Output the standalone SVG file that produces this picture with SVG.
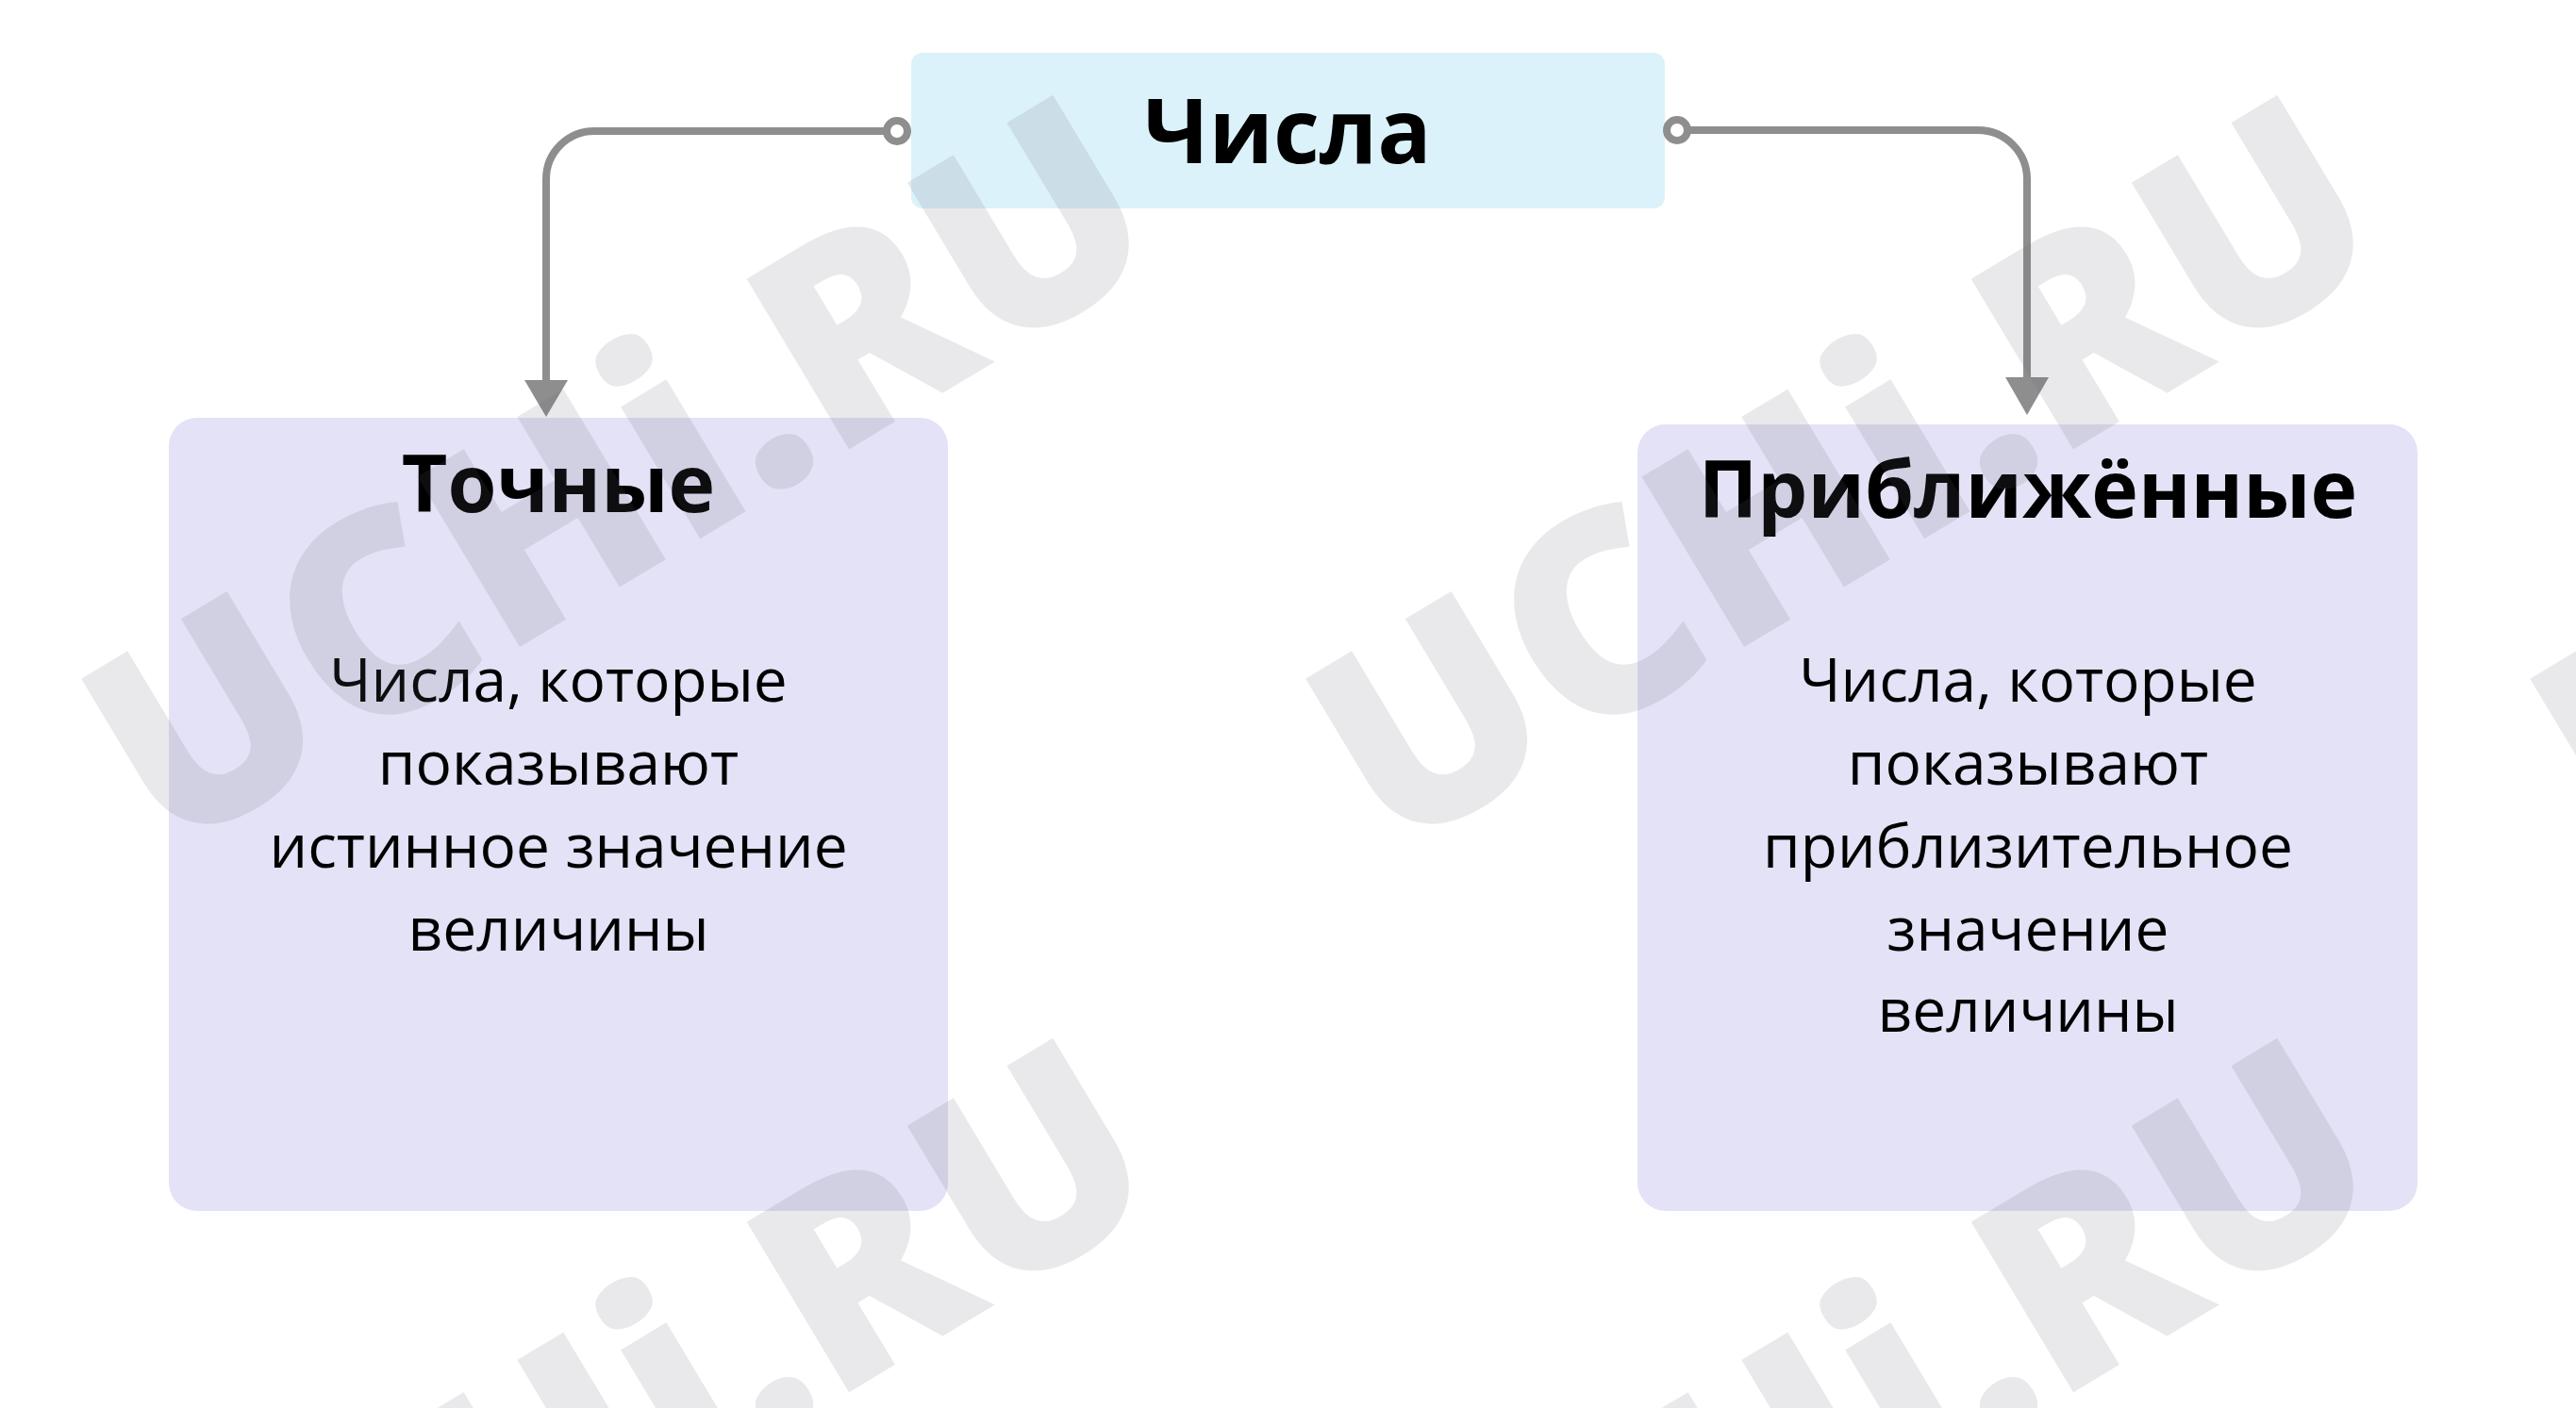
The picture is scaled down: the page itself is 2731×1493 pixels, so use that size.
<svg xmlns="http://www.w3.org/2000/svg" width="2731" height="1493" viewBox="0 0 2731 1493">
<defs>
<style>
.title{font-family:"Open Sans","Noto Sans","DejaVu Sans",sans-serif;font-weight:700;fill:#000;text-anchor:middle}
.body{font-family:"Open Sans","Noto Sans","DejaVu Sans",sans-serif;font-weight:400;font-size:64px;fill:#000;text-anchor:middle}
.conn{fill:none;stroke:#8e8e8e;stroke-width:8}
.dot{fill:#fff;stroke:#8e8e8e;stroke-width:8}
.head{fill:#8e8e8e}
.wm{font-family:"Open Sans","DejaVu Sans",sans-serif;font-weight:800;font-size:295px;fill:#656573;fill-opacity:0.14;text-anchor:middle}
</style>
<text id="wmtext" class="wm" transform="translate(655,500) rotate(-31)" x="0" y="106">UCHi.RU</text>
</defs>
<rect width="2731" height="1493" fill="#fff"/>
<g id="node-chisla">
<rect x="966" y="56" width="799" height="165" rx="12" fill="#dcf2fa"/>
<text class="title" x="1365" y="173" font-size="95">Числа</text>
</g>
<g id="node-tochnye">
<rect x="179" y="443" width="826" height="841" rx="30" fill="#e3e2f6"/>
<text class="title" x="592" y="543" font-size="84">Точные</text>
<text class="body" x="592" y="744">Числа, которые</text>
<text class="body" x="592" y="832">показывают</text>
<text class="body" x="592" y="920">истинное значение</text>
<text class="body" x="592" y="1008">величины</text>
</g>
<g id="node-priblizhennye">
<rect x="1736" y="450" width="827" height="834" rx="30" fill="#e3e2f6"/>
<text class="title" x="2150" y="549" font-size="84">Приближённые</text>
<text class="body" x="2150" y="744">Числа, которые</text>
<text class="body" x="2150" y="832">показывают</text>
<text class="body" x="2150" y="920">приблизительное</text>
<text class="body" x="2150" y="1008">значение</text>
<text class="body" x="2150" y="1094">величины</text>
</g>
<g id="connectors">
<path class="conn" d="M951,139 H630 A51,51 0 0 0 579,190 V408"/>
<polygon class="head" points="556,403 602,403 579,442"/>
<circle class="dot" cx="951" cy="139" r="11"/>
<path class="conn" d="M1778,138 H2097 A52,52 0 0 1 2149,190 V405"/>
<polygon class="head" points="2126,400 2172,400 2149,440"/>
<circle class="dot" cx="1778" cy="138" r="11"/>
</g>
<g id="watermark">
<use href="#wmtext"/>
<use href="#wmtext" x="1298"/>
<use href="#wmtext" x="2596"/>
<use href="#wmtext" y="1000"/>
<use href="#wmtext" x="1298" y="1000"/>
<use href="#wmtext" x="2596" y="1000"/>
</g>
</svg>
